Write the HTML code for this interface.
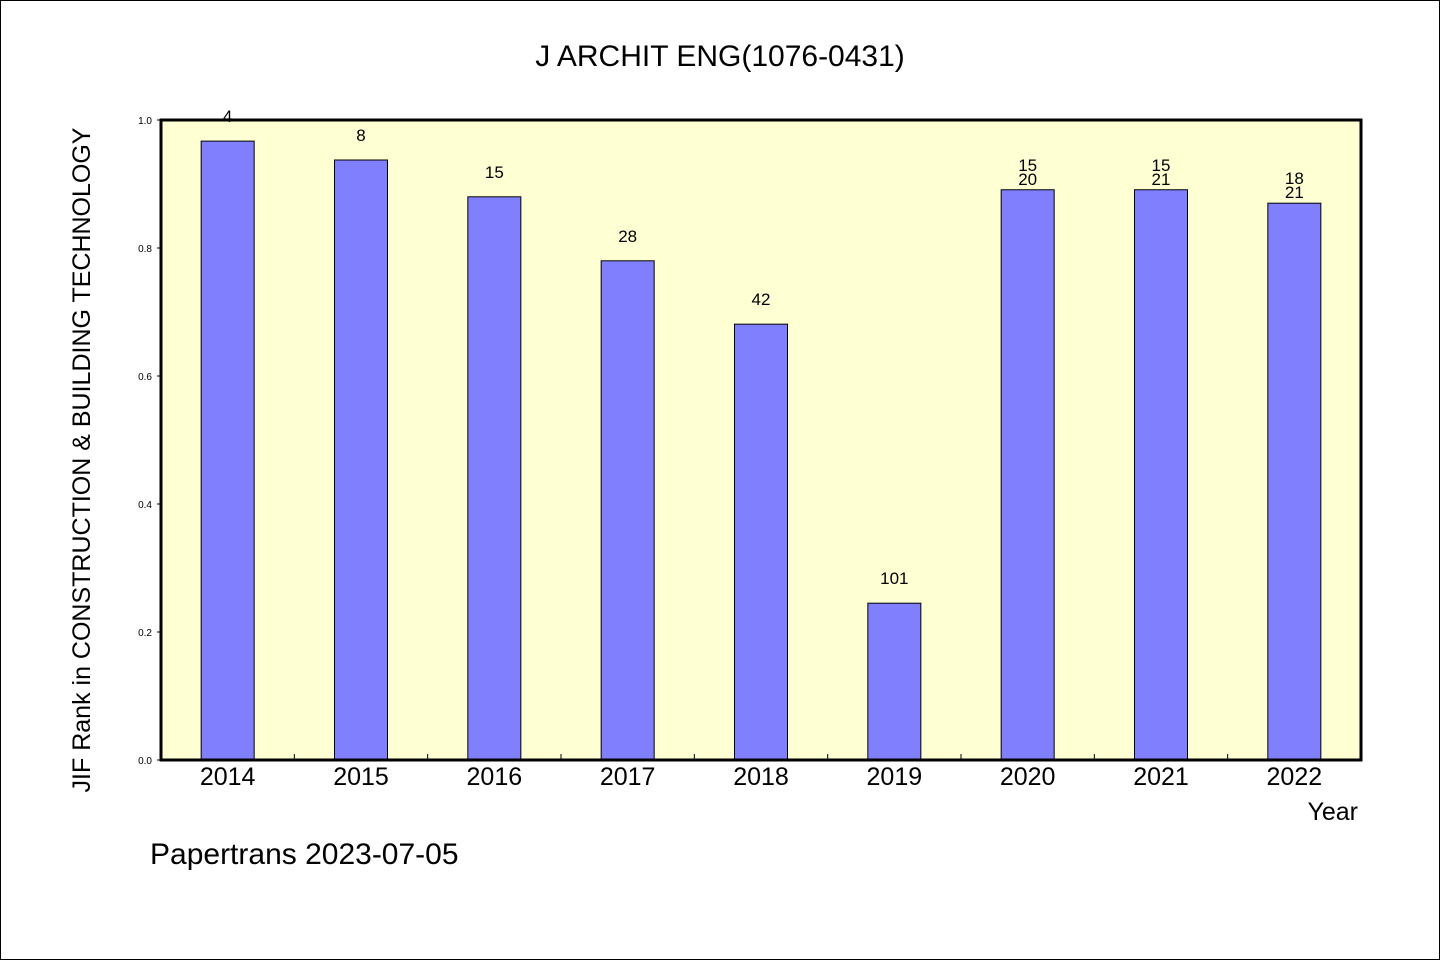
<!DOCTYPE html>
<html><head><meta charset="utf-8"><style>
body{margin:0;background:#fff}
svg{display:block}
text{font-family:"WenQuanYi Zen Hei","Liberation Sans",sans-serif;fill:#000}
</style></head><body>
<svg id="c" width="1440" height="960">
<rect x="0.5" y="0.5" width="1439" height="959" fill="#fff" stroke="#000"/>
<text x="720" y="66" text-anchor="middle" font-size="30">J ARCHIT ENG(1076-0431)</text>
<rect x="161" y="120" width="1200" height="640" fill="#ffffd4"/>
<g id="bars"></g>
<rect x="161" y="120" width="1200" height="640" fill="none" stroke="#000" stroke-width="3"/>
<text transform="translate(90,460) rotate(-90)" text-anchor="middle" font-size="25">JIF Rank in CONSTRUCTION &amp; BUILDING TECHNOLOGY</text>
<text x="1358" y="820" text-anchor="end" font-size="25">Year</text>
<text x="150" y="864" font-size="30">Papertrans 2023-07-05</text>
</svg>
<script>
const categories=["2014","2015","2016","2017","2018","2019","2020","2021","2022"];
const values=[0.967,0.9375,0.88,0.78,0.681,0.245,0.891,0.891,0.87];
const topLabels=["4","8","15","28","42","101","15","15","18"];
const secondLabels=["","","","","","","20","21","21"];
const yTicks=[0,0.2,0.4,0.6,0.8,1.0];
const L=161,T=120,W=1200,H=640,NS="http://www.w3.org/2000/svg";
const xs=i=>L+W/categories.length*(i+0.5);
const ys=v=>T+H-v*H;
const g=document.getElementById('bars');
function mk(t,a,txt){const e=document.createElementNS(NS,t);for(const k in a)e.setAttribute(k,a[k]);if(txt!==undefined)e.textContent=txt;g.appendChild(e);return e;}
yTicks.forEach(v=>{
 const t=mk('text',{x:152,y:ys(v)+4,'text-anchor':'end','font-size':10},v.toFixed(1));
 
 
 const l=mk('line',{x1:L-4,x2:L,y1:ys(v),y2:ys(v),stroke:'#000'});
 
 
});
categories.forEach((c,i)=>{
 const cx=xs(i),bw=53;
 const r=mk('rect',{x:cx-bw/2,y:ys(values[i]),width:bw,height:H-(ys(values[i])-T),fill:'#8080ff',stroke:'#000','stroke-width':1});
 
 
 const xl=mk('text',{x:cx,y:785,'text-anchor':'middle','font-size':25},c);
 
 
 if(i>0){const tk=mk('line',{x1:L+W/categories.length*i,x2:L+W/categories.length*i,y1:T+H,y2:T+H-6,stroke:'#000'});
 
 }
 const yb=ys(values[i]);
 if(secondLabels[i]){
  const s=mk('text',{x:cx,y:yb-5,'text-anchor':'middle','font-size':17},secondLabels[i]);
  
  
  const t=mk('text',{x:cx,y:yb-19,'text-anchor':'middle','font-size':17},topLabels[i]);
  
  
 } else {
  const t=mk('text',{x:cx,y:yb-19,'text-anchor':'middle','font-size':17},topLabels[i]);
  
  
 }
});
</script>
</body></html>
